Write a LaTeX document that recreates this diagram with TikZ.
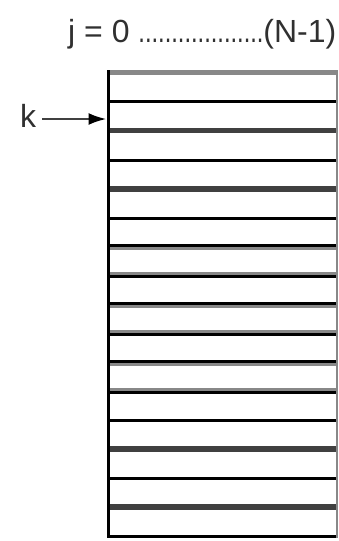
\documentclass[tikz,border=0pt]{standalone}
\usepackage{fontspec}
\setmainfont{Liberation Sans}
\usetikzlibrary{arrows.meta}
\definecolor{lgray}{HTML}{888888}
\definecolor{dgray}{HTML}{404040}
\definecolor{tgray}{HTML}{303030}
\definecolor{agray}{HTML}{404040}
\tikzset{
  blk/.style={line width=3pt, black},
  drk/.style={line width=5.5pt, dgray},
  lgt/.style={line width=3pt, lgray},
  lbl/.style={inner sep=0pt, text=tgray, font=\fontsize{32}{38}\selectfont},
  pointer/.style={line width=2.5pt, agray, -{Latex[length=18pt,width=12pt,black]}}
}
\begin{document}
\begin{tikzpicture}[x=1pt,y=-1pt]
\useasboundingbox (0,0) rectangle (338,541);
% header label
\node[lbl, anchor=base west] (jlab) at (68,42) {j = 0 \scalebox{0.74}[1]{...................}(N-1)};
% array corners
\coordinate (tl) at (108.3,70);
\coordinate (bl) at (108.3,537.5);
\coordinate (tr) at (337,70);
\coordinate (br) at (337,537.5);
% horizontal row lines
\draw[line width=5pt, lgray] (108,72.5) -- (338,72.5);
\draw[blk] (108,101.7) -- (337,101.7);
\draw[drk] (108,130.5) -- (337,130.5);
\draw[blk] (108,160.5) -- (337,160.5);
\draw[drk] (108,189) -- (337,189);
\draw[blk] (108,218.5) -- (337,218.5);
\draw[lgt] (108,248.5) -- (337,248.5);
\draw[blk] (108,245.5) -- (337,245.5);
\draw[lgt] (108,273.5) -- (337,273.5);
\draw[blk] (108,276.5) -- (337,276.5);
\draw[lgt] (108,306.5) -- (337,306.5);
\draw[blk] (108,303.5) -- (337,303.5);
\draw[lgt] (108,331.5) -- (337,331.5);
\draw[blk] (108,334.5) -- (337,334.5);
\draw[lgt] (108,364.5) -- (337,364.5);
\draw[blk] (108,361.5) -- (337,361.5);
\draw[lgt] (108,389) -- (337,389);
\draw[blk] (108,392.5) -- (337,392.5);
\draw[blk] (108,420.5) -- (337,420.5);
\draw[drk] (108,449) -- (337,449);
\draw[blk] (108,478.5) -- (337,478.5);
\draw[drk] (108,507) -- (337,507);
\draw[blk] (108,536) -- (337,536);
% borders
\draw[line width=2pt, lgray] (tr) -- (br);
\draw[blk] (tl) -- (bl);
% pointer k
\node[lbl, anchor=base west] (k) at (20,127) {k};
\coordinate (kin) at (106.5,119);
\draw[pointer] ([xshift=6pt]k.east |- kin) -- (kin);
\end{tikzpicture}
\end{document}
